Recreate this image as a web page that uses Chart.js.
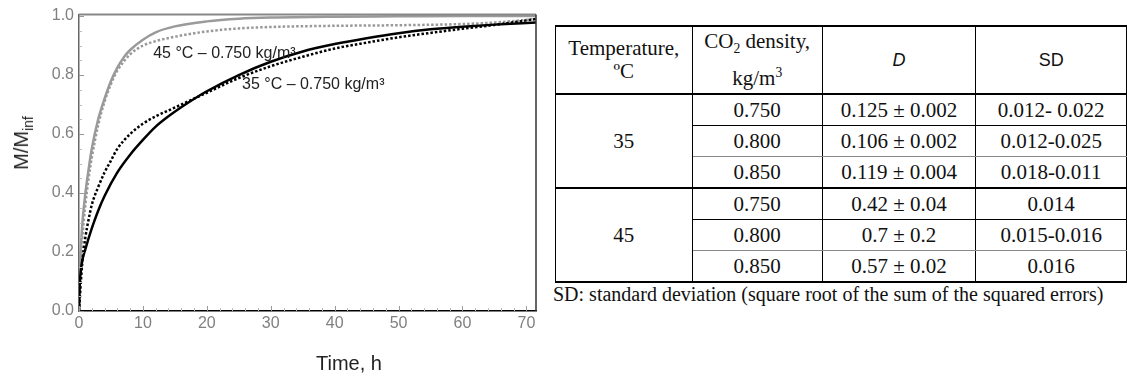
<!DOCTYPE html>
<html>
<head>
<meta charset="utf-8">
<script src="https://cdn.jsdelivr.net/npm/chart.js@4.4.0/dist/chart.umd.min.js"></script>
<style>
  body { margin: 0; width: 1127px; height: 376px; overflow: hidden; background: #fff; position: relative;
         font-family: "Liberation Sans", Arial, sans-serif; }
  #chartBox { position: absolute; left: 0; top: 0; width: 545px; height: 376px; }
  #yTitle { position: absolute; left: 23px; top: 143px; transform: translate(-50%, -50%) rotate(-90deg);
            font-size: 20px; color: #222; white-space: nowrap; }
  #yTitle sub { font-size: 70%; }
  #xTitle { position: absolute; left: 349px; top: 363px; transform: translate(-50%, -50%);
            font-size: 20px; color: #222; white-space: nowrap; }
  #tbl { position: absolute; left: 555px; top: 25px; border-collapse: collapse;
         font-family: "Liberation Serif", "Times New Roman", serif; font-size: 21px; color: #111; }
  #tbl td { text-align: center; padding: 0; border-left: 1.5px solid #000; border-right: 1.5px solid #000; }
  #tbl tr.head td { height: 66px; line-height: 23px; border-top: 2px solid #000; border-bottom: 2px solid #000; }
  #tbl tr.row td { height: 30px; }
  #tbl tr.r1 td.v { border-bottom: 1.5px solid #000; }
  #tbl tr.r2 td.v { border-bottom: 1px solid #888; }
  #tbl tr.r3 td { border-bottom: 2px solid #000; }
  #tbl .sans { font-family: "Liberation Sans", Arial, sans-serif; font-size: 18px; }
  #tbl sub, #tbl sup { font-size: 65%; }
  #note { position: absolute; left: 553px; top: 283px; font-family: "Liberation Serif", "Times New Roman", serif;
          font-size: 20px; color: #111; white-space: nowrap; }
</style>
</head>
<body>
<div id="chartBox"><canvas id="grafico"></canvas></div>
<div id="yTitle">M/M<sub>inf</sub></div>
<div id="xTitle">Time, h</div>

<table id="tbl">
  <colgroup><col style="width:137px"><col style="width:131px"><col style="width:155px"><col style="width:152px"></colgroup>
  <tbody id="tblBody">
    <tr class="head">
      <td>Temperature,<br>ºC</td>
      <td>CO<sub>2</sub> density,<br>kg/m<sup>3</sup></td>
      <td><i class="sans">D</i></td>
      <td><span class="sans">SD</span></td>
    </tr>
  </tbody>
</table>
<div id="note">SD: standard deviation (square root of the sum of the squared errors)</div>

<script>
// dati: tempo (h) e frazione M/Minf
const timeModel45 = [0, 0.1, 0.25, 0.5, 1, 1.5, 2, 3, 4, 5, 6, 7, 8, 10, 12, 15, 20, 25, 30, 40, 50, 60, 71.5];
const fracModel45 = [0, 0.12, 0.2, 0.29, 0.4, 0.48, 0.55, 0.65, 0.72, 0.78, 0.825, 0.86, 0.885, 0.92, 0.945, 0.965, 0.982, 0.991, 0.995, 0.998, 0.999, 1.0, 1.0];

const timeData45 = [0, 0.25, 0.5, 1, 1.5, 2, 3, 4, 5, 6, 8, 10, 12, 15, 20, 25, 30, 40, 50, 60, 65, 71.5];
const fracData45 = [0, 0.15, 0.24, 0.36, 0.45, 0.52, 0.63, 0.71, 0.77, 0.815, 0.87, 0.9, 0.915, 0.93, 0.948, 0.958, 0.963, 0.967, 0.969, 0.973, 0.978, 0.99];

const timeModel35 = [0, 0.1, 0.3, 0.5, 1, 2, 3, 4, 6, 8, 10, 12, 14, 17, 20, 25, 30, 35, 40, 45, 50, 55, 60, 65, 71.5];
const fracModel35 = [0, 0.08, 0.14, 0.17, 0.21, 0.28, 0.34, 0.39, 0.47, 0.53, 0.58, 0.625, 0.66, 0.705, 0.745, 0.80, 0.845, 0.88, 0.905, 0.925, 0.942, 0.955, 0.964, 0.971, 0.978];

const timeData35 = [0, 0.5, 1, 1.5, 2, 3, 4, 5, 6, 8, 10, 12, 14, 17, 20, 25, 30, 35, 40, 45, 50, 55, 60, 65, 71.5];
const fracData35 = [0, 0.16, 0.25, 0.31, 0.36, 0.42, 0.47, 0.51, 0.55, 0.60, 0.635, 0.66, 0.68, 0.71, 0.74, 0.79, 0.83, 0.862, 0.89, 0.91, 0.928, 0.943, 0.957, 0.97, 0.99];

const xTicks = [0, 10, 20, 30, 40, 50, 60, 70];
const yTicks = [0, 0.2, 0.4, 0.6, 0.8, 1.0];

// etichette delle curve (ancorate in unità dati)
const curveLabels = [
    { text: '45 °C – 0.750 kg/m³', t: 11.6, y: 0.872 },
    { text: '35 °C – 0.750 kg/m³', t: 25.5, y: 0.768 }
];

// tabella
const tempGroups = ['35', '45'];
const densities = ['0.750', '0.800', '0.850'];
const diffD = [['0.125 ± 0.002', '0.106 ± 0.002', '0.119 ± 0.004'], ['0.42 ± 0.04', '0.7 ± 0.2', '0.57 ± 0.02']];
const devSD = [['0.012- 0.022', '0.012-0.025', '0.018-0.011'], ['0.014', '0.015-0.016', '0.016']];

const body = document.getElementById('tblBody');
tempGroups.forEach((temp, g) => {
    densities.forEach((dens, i) => {
        const tr = document.createElement('tr');
        tr.className = 'row r' + (i + 1);
        let html = '';
        if (i === 0) html += '<td rowspan="3" style="border-bottom:2px solid #000">' + temp + '</td>';
        html += '<td class="v">' + dens + '</td><td class="v">' + diffD[g][i] + '</td><td class="v">' + devSD[g][i] + '</td>';
        tr.innerHTML = html;
        body.appendChild(tr);
    });
});

function punti(xs, ys) { return xs.map((x, i) => ({ x: x, y: ys[i] })); }

// cornice, tacche minori ed etichette delle curve
const cornice = {
    id: 'cornice',
    afterDatasetsDraw(chart) {
        const { ctx, chartArea: a, scales: { x, y } } = chart;
        ctx.save();
        ctx.lineWidth = 1;
        for (let v = 0; v <= 71; v += 2) {
            const px = Math.round(x.getPixelForValue(v)) + 0.5;
            const len = v % 10 === 0 ? 5 : 3;
            ctx.strokeStyle = v % 10 === 0 ? '#999' : '#bbb';
            ctx.beginPath(); ctx.moveTo(px, a.bottom); ctx.lineTo(px, a.bottom - len); ctx.stroke();
        }
        for (let k = 0; k <= 20; k++) {
            const py = Math.round(y.getPixelForValue(k * 0.05)) + 0.5;
            const len = k % 4 === 0 ? 5 : 3;
            ctx.strokeStyle = k % 4 === 0 ? '#999' : '#bbb';
            ctx.beginPath(); ctx.moveTo(a.left, py); ctx.lineTo(a.left + len, py); ctx.stroke();
        }
        ctx.strokeStyle = '#888';
        ctx.lineWidth = 2;
        ctx.beginPath(); ctx.moveTo(a.left, a.top); ctx.lineTo(a.right, a.top); ctx.stroke();
        ctx.strokeStyle = '#333';
        ctx.lineWidth = 1.5;
        ctx.beginPath(); ctx.moveTo(a.right, a.top); ctx.lineTo(a.right, a.bottom); ctx.stroke();

        ctx.fillStyle = '#222';
        ctx.font = '16px "Liberation Sans", Arial, sans-serif';
        ctx.textBaseline = 'middle';
        ctx.textAlign = 'left';
        curveLabels.forEach(l => ctx.fillText(l.text, x.getPixelForValue(l.t), y.getPixelForValue(l.y)));
        ctx.restore();
    }
};

const ctx = document.getElementById('grafico').getContext('2d');
new Chart(ctx, {
    type: 'line',
    data: {
        datasets: [
            { data: punti(timeData35, fracData35), borderColor: '#000', borderWidth: 2.5, borderDash: [2.5, 2],
              pointRadius: 0, cubicInterpolationMode: 'monotone', fill: false },
            { data: punti(timeModel35, fracModel35), borderColor: '#000', borderWidth: 2.5,
              pointRadius: 0, cubicInterpolationMode: 'monotone', fill: false },
            { data: punti(timeData45, fracData45), borderColor: '#999', borderWidth: 2.5, borderDash: [2.5, 2],
              pointRadius: 0, cubicInterpolationMode: 'monotone', fill: false },
            { data: punti(timeModel45, fracModel45), borderColor: '#9a9a9a', borderWidth: 2.5,
              pointRadius: 0, cubicInterpolationMode: 'monotone', fill: false }
        ]
    },
    plugins: [cornice],
    options: {
        responsive: true,
        maintainAspectRatio: false,
        animation: false,
        layout: { padding: { top: 10, right: 9, left: 0, bottom: 0 } },
        plugins: { legend: { display: false }, tooltip: { enabled: false } },
        scales: {
            x: {
                type: 'linear', min: 0, max: 71.5,
                afterBuildTicks: s => { s.ticks = xTicks.map(v => ({ value: v })); },
                afterFit: s => { s.height = 65; },
                grid: { display: false, drawTicks: false },
                border: { display: true, color: '#000', width: 1.5 },
                ticks: { color: '#808080', padding: 3, font: { size: 16, family: '"Liberation Sans", Arial, sans-serif' } }
            },
            y: {
                min: 0, max: 1.005,
                afterBuildTicks: s => { s.ticks = yTicks.map(v => ({ value: v })); },
                afterFit: s => { s.width = 79; },
                grid: { display: false, drawTicks: false },
                border: { display: true, color: '#666', width: 1.5 },
                ticks: { color: '#808080', padding: 5, callback: v => v.toFixed(1),
                         font: { size: 16, family: '"Liberation Sans", Arial, sans-serif' } }
            }
        }
    }
});
</script>
</body>
</html>
